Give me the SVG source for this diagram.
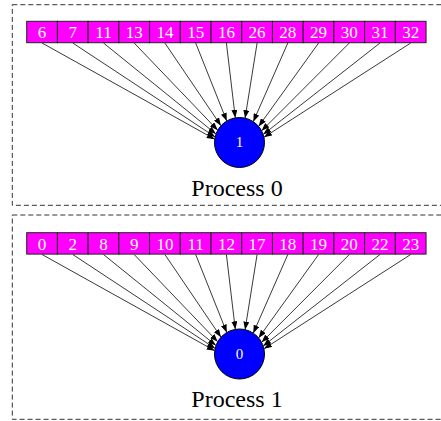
<svg xmlns="http://www.w3.org/2000/svg" width="441" height="421" viewBox="0 0 441 421">
<style>
.cl{fill:none;stroke:#333;stroke-width:1;stroke-dasharray:5,3}
.cell{fill:#ff00ff;stroke:#222;stroke-width:1}
.ct{font-family:"Liberation Serif",serif;font-size:17px;fill:#fff;text-anchor:middle}
.nd{fill:#0000ff;stroke:#000;stroke-width:1}
.nt{font-family:"Liberation Serif",serif;font-size:15px;fill:#fff;text-anchor:middle}
.lb{font-family:"Liberation Serif",serif;font-size:24px;fill:#000;text-anchor:middle}
.e{stroke:#222;stroke-width:0.9;fill:none;marker-end:url(#ah)}
</style>
<defs>
<marker id="ah" markerUnits="userSpaceOnUse" markerWidth="9" markerHeight="6" refX="8" refY="3" orient="auto">
<path d="M0,0 L8,3 L0,6 z" fill="#000"/>
</marker>
</defs>
<rect width="441" height="421" fill="#fff"/>
<g id="cluster0">
<rect class="cl" x="12.3" y="4.7" width="440" height="200.6"/>
<text class="lb" x="237" y="195.7">Process 0</text>
</g>
<g id="cluster1">
<rect class="cl" x="12.3" y="215" width="440" height="204.3"/>
<text class="lb" x="237" y="407">Process 1</text>
</g>
<g id="record0">
<rect class="cell" x="26.7" y="21.3" width="30.72" height="21.4"/>
<rect class="cell" x="57.42" y="21.3" width="30.72" height="21.4"/>
<rect class="cell" x="88.14" y="21.3" width="30.72" height="21.4"/>
<rect class="cell" x="118.86" y="21.3" width="30.72" height="21.4"/>
<rect class="cell" x="149.58" y="21.3" width="30.72" height="21.4"/>
<rect class="cell" x="180.3" y="21.3" width="30.72" height="21.4"/>
<rect class="cell" x="211.02" y="21.3" width="30.72" height="21.4"/>
<rect class="cell" x="241.74" y="21.3" width="30.72" height="21.4"/>
<rect class="cell" x="272.46" y="21.3" width="30.72" height="21.4"/>
<rect class="cell" x="303.18" y="21.3" width="30.72" height="21.4"/>
<rect class="cell" x="333.9" y="21.3" width="30.72" height="21.4"/>
<rect class="cell" x="364.62" y="21.3" width="30.72" height="21.4"/>
<rect class="cell" x="395.34" y="21.3" width="30.72" height="21.4"/>
<text class="ct" x="42.06" y="37.6">6</text>
<text class="ct" x="72.78" y="37.6">7</text>
<text class="ct" x="103.5" y="37.6">11</text>
<text class="ct" x="134.2" y="37.6">13</text>
<text class="ct" x="164.9" y="37.6">14</text>
<text class="ct" x="195.7" y="37.6">15</text>
<text class="ct" x="226.4" y="37.6">16</text>
<text class="ct" x="257.1" y="37.6">26</text>
<text class="ct" x="287.8" y="37.6">28</text>
<text class="ct" x="318.6" y="37.6">29</text>
<text class="ct" x="349.3" y="37.6">30</text>
<text class="ct" x="380" y="37.6">31</text>
<text class="ct" x="410.7" y="37.6">32</text>
</g>
<g id="node0">
<circle class="nd" cx="239.5" cy="142.5" r="25"/>
<text class="nt" x="239.5" y="147">1</text>
</g>
<g id="record1">
<rect class="cell" x="26.7" y="232.7" width="30.72" height="21.4"/>
<rect class="cell" x="57.42" y="232.7" width="30.72" height="21.4"/>
<rect class="cell" x="88.14" y="232.7" width="30.72" height="21.4"/>
<rect class="cell" x="118.86" y="232.7" width="30.72" height="21.4"/>
<rect class="cell" x="149.58" y="232.7" width="30.72" height="21.4"/>
<rect class="cell" x="180.3" y="232.7" width="30.72" height="21.4"/>
<rect class="cell" x="211.02" y="232.7" width="30.72" height="21.4"/>
<rect class="cell" x="241.74" y="232.7" width="30.72" height="21.4"/>
<rect class="cell" x="272.46" y="232.7" width="30.72" height="21.4"/>
<rect class="cell" x="303.18" y="232.7" width="30.72" height="21.4"/>
<rect class="cell" x="333.9" y="232.7" width="30.72" height="21.4"/>
<rect class="cell" x="364.62" y="232.7" width="30.72" height="21.4"/>
<rect class="cell" x="395.34" y="232.7" width="30.72" height="21.4"/>
<text class="ct" x="42.06" y="249.5">0</text>
<text class="ct" x="72.78" y="249.5">2</text>
<text class="ct" x="103.5" y="249.5">8</text>
<text class="ct" x="134.2" y="249.5">9</text>
<text class="ct" x="164.9" y="249.5">10</text>
<text class="ct" x="195.7" y="249.5">11</text>
<text class="ct" x="226.4" y="249.5">12</text>
<text class="ct" x="257.1" y="249.5">17</text>
<text class="ct" x="287.8" y="249.5">18</text>
<text class="ct" x="318.6" y="249.5">19</text>
<text class="ct" x="349.3" y="249.5">20</text>
<text class="ct" x="380" y="249.5">22</text>
<text class="ct" x="410.7" y="249.5">23</text>
</g>
<g id="node1">
<circle class="nd" cx="239.5" cy="354" r="25"/>
<text class="nt" x="239.5" y="358.5">0</text>
</g>
<g id="edges">
<g id="edges0">
<line class="e" x1="42.06" y1="43" x2="214.72" y2="139.19"/>
<line class="e" x1="72.78" y1="43" x2="215.13" y2="136.92"/>
<line class="e" x1="103.5" y1="43" x2="215.99" y2="133.99"/>
<line class="e" x1="134.2" y1="43" x2="217.71" y2="130.24"/>
<line class="e" x1="164.9" y1="43" x2="220.99" y2="125.7"/>
<line class="e" x1="195.7" y1="43" x2="226.75" y2="120.99"/>
<line class="e" x1="226.4" y1="43" x2="235.31" y2="117.85"/>
<line class="e" x1="257.1" y1="43" x2="245.08" y2="118.13"/>
<line class="e" x1="287.8" y1="43" x2="253.27" y2="121.64"/>
<line class="e" x1="318.6" y1="43" x2="258.63" y2="126.4"/>
<line class="e" x1="349.3" y1="43" x2="261.62" y2="130.84"/>
<line class="e" x1="380" y1="43" x2="263.17" y2="134.47"/>
<line class="e" x1="410.7" y1="43" x2="263.95" y2="137.29"/>
</g>
<g id="edges1" transform="translate(0,211.5)">
<line class="e" x1="42.06" y1="43" x2="214.72" y2="139.19"/>
<line class="e" x1="72.78" y1="43" x2="215.13" y2="136.92"/>
<line class="e" x1="103.5" y1="43" x2="215.99" y2="133.99"/>
<line class="e" x1="134.2" y1="43" x2="217.71" y2="130.24"/>
<line class="e" x1="164.9" y1="43" x2="220.99" y2="125.7"/>
<line class="e" x1="195.7" y1="43" x2="226.75" y2="120.99"/>
<line class="e" x1="226.4" y1="43" x2="235.31" y2="117.85"/>
<line class="e" x1="257.1" y1="43" x2="245.08" y2="118.13"/>
<line class="e" x1="287.8" y1="43" x2="253.27" y2="121.64"/>
<line class="e" x1="318.6" y1="43" x2="258.63" y2="126.4"/>
<line class="e" x1="349.3" y1="43" x2="261.62" y2="130.84"/>
<line class="e" x1="380" y1="43" x2="263.17" y2="134.47"/>
<line class="e" x1="410.7" y1="43" x2="263.95" y2="137.29"/>
</g>
</g>
</svg>
